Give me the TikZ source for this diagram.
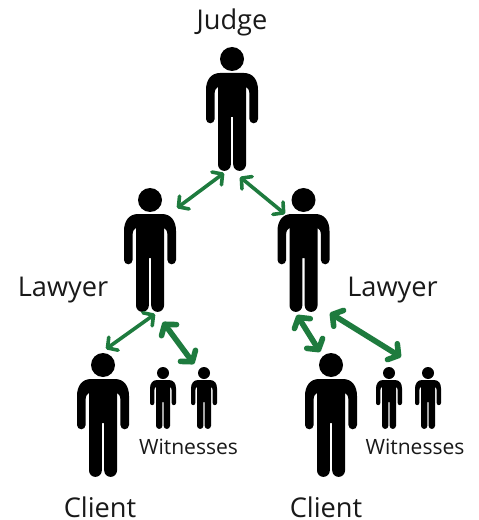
\documentclass[tikz,border=0pt]{standalone}
\usepackage{fontspec}
\setmainfont{Open Sans}
\usetikzlibrary{arrows.meta}
\definecolor{linkgreen}{HTML}{1E7B3E}
\tikzset{
  person/.pic={
    \fill (0,12) circle (12);
    \fill (-12,26) .. controls (-21,26) and (-26,33) .. (-26,43) -- (-26,72)
      arc (180:0:4.3) -- (-17.4,47) .. controls (-17.4,43) and (-16,41) .. (-14,40)
      -- (-14,117.5) arc (180:0:6.4) -- (-1.2,70) -- (1.2,70) -- (1.2,117.5)
      arc (180:0:6.4) -- (14,40) .. controls (16,41) and (17.4,43) .. (17.4,47)
      -- (17.4,72) arc (180:0:4.3) -- (26,43)
      .. controls (26,33) and (21,26) .. (12,26) -- cycle;
  },
  thinlink/.style={linkgreen,line width=2.7pt,{Straight Barb[round,length=5.5pt,width=12pt]}-{Straight Barb[round,length=5.5pt,width=12pt]}},
  thicklink/.style={linkgreen,line width=4.2pt,{Straight Barb[round,length=5.5pt,width=14pt]}-{Straight Barb[round,length=5.5pt,width=14pt]}},
  bigtext/.style={anchor=base,inner sep=0pt,font=\fontsize{20.4pt}{22pt}\selectfont,text=black!90},
  smalltext/.style={anchor=base,inner sep=0pt,font=\fontsize{15.8pt}{18pt}\selectfont,text=black!90}
}
\begin{document}
\begin{tikzpicture}[x=0.75pt,y=-0.75pt]
\useasboundingbox (0,0) rectangle (478,520);

\pic (judge) at (232,47) {person};
\pic (lawyerL) at (150,188) {person};
\pic (lawyerR) at (303.5,188) {person};
\pic (clientL) at (103,353) {person};
\pic (clientR) at (331,353) {person};
\pic[scale=0.5] (witA) at (163,367) {person};
\pic[scale=0.5] (witB) at (204,367) {person};
\pic[scale=0.5] (witC) at (389,367) {person};
\pic[scale=0.5] (witD) at (428,367) {person};

\node [bigtext] (t1) at (232,30) {Judge};
\node [bigtext] (t2) at (63,296) {Lawyer};
\node [bigtext] (t3) at (392.5,296) {Lawyer};
\node [bigtext] (t4) at (100,517) {Client};
\node [bigtext] (t5) at (326,517) {Client};
\node [smalltext] (t6) at (188.5,454) {Witnesses};
\node [smalltext] (t7) at (415,454) {Witnesses};

\coordinate (a1) at (224,173);
\coordinate (a2) at (177,208);
\coordinate (b1) at (240,177);
\coordinate (b2) at (285,214);
\coordinate (c1) at (155,314);
\coordinate (c2) at (106,349);
\coordinate (d1) at (163,322);
\coordinate (d2) at (194,364);
\coordinate (e1) at (297,315);
\coordinate (e2) at (320,352);
\coordinate (f1) at (330,313);
\coordinate (f2) at (401,357);

\draw [thinlink] (a1) -- (a2);
\draw [thinlink] (b1) -- (b2);
\draw [thinlink] (c1) -- (c2);
\draw [thicklink] (d1) -- (d2);
\draw [thicklink] (e1) -- (e2);
\draw [thicklink] (f1) -- (f2);
\end{tikzpicture}
\end{document}
